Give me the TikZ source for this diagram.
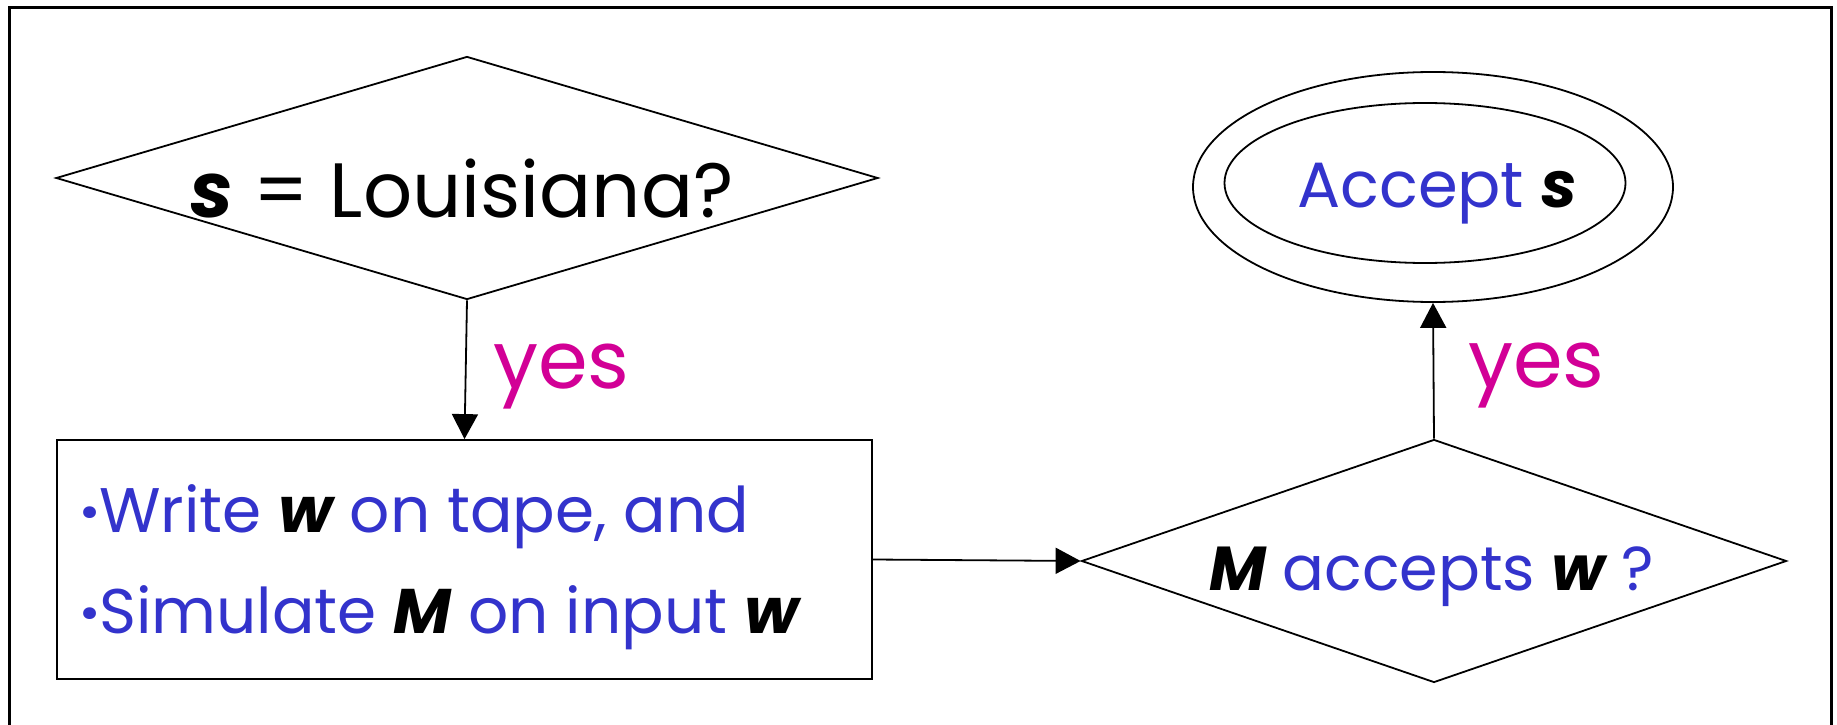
\documentclass[tikz,border=0pt]{standalone}
\usepackage{fontspec}
\setmainfont{Poppins}
\usetikzlibrary{shapes.geometric,arrows.meta}
\definecolor{txtblue}{RGB}{51,51,204}
\definecolor{yesmag}{RGB}{210,0,150}
\newcommand{\vb}[1]{{\bfseries\itshape #1}}
\newcommand{\bdot}{{\bfseries ·}}
\tikzset{
  outline/.style={draw=black, line width=1.8pt, inner sep=0pt},
  flow/.style={draw=black, line width=1.8pt, -{Triangle[length=25pt,width=26pt]}},
  yeslbl/.style={text=yesmag, font=\fontsize{80}{96}\selectfont, inner sep=0pt, anchor=base west},
  bodytxt/.style={text=txtblue, inner sep=0pt, anchor=base west, font=\fontsize{63}{75}\selectfont},
}
\begin{document}
\begin{tikzpicture}[x=1pt,y=-1pt]
\useasboundingbox (0,0) rectangle (1837,725);
\fill[white] (0,0) rectangle (1837,725);
% open frame around the chart
\draw[line width=3pt] (9,725) -- (9,8) -- (1831,8) -- (1831,725);

% shapes
\node[outline, diamond, minimum width=822pt, minimum height=243pt] (q1) at (467,178) {};
\node[outline, rectangle, minimum width=815pt, minimum height=239pt] (sim) at (464.5,559.5) {};
\node[outline, diamond, minimum width=705pt, minimum height=243pt] (q2) at (1434,561) {};
\node[outline, ellipse, minimum width=480pt, minimum height=230pt] (acc) at (1433,187) {};
\node[outline, ellipse, minimum width=401pt, minimum height=160pt] (accin) at (1425,183) {};

% texts
\node[inner sep=0pt, anchor=base west, font=\fontsize{77}{92}\selectfont] (q1txt) at (190,217)
  {\vb{s} = Louisiana?};
\node[bodytxt] (line1) at (80,532)
  {\bdot Write \textcolor{black}{\vb{w}} on tape, and};
\node[bodytxt] (line2) at (80,633)
  {\bdot Simulate \textcolor{black}{\vb{M}} on input \textcolor{black}{\vb{w}}};
\node[bodytxt, font=\fontsize{62}{74}\selectfont] (q2txt) at (1209,590)
  {\textcolor{black}{\vb{M}} accepts \textcolor{black}{\vb{w}} ?};
\node[bodytxt, font=\fontsize{64}{76}\selectfont] (acctxt) at (1297,207)
  {Accept \textcolor{black}{\vb{s}}};

% connectors
\draw[flow] (q1.south) -- (sim.north);
\draw[flow] (sim.east) -- (q2.west);
\draw[flow] (q2.north) -- (acc.south);

\node[yeslbl] (yes1) at (493,388) {yes};
\node[yeslbl] (yes2) at (1468,387) {yes};
\end{tikzpicture}
\end{document}
